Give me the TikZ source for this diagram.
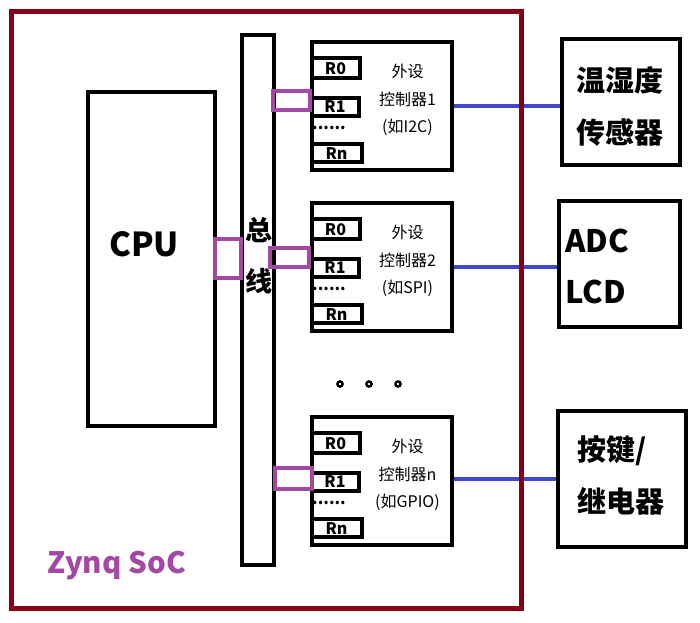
\documentclass[tikz,border=0pt]{standalone}
\usepackage{fontspec}
\setmainfont{Noto Sans CJK SC}
\usetikzlibrary{positioning, calc}
\definecolor{socred}{HTML}{880015}
\definecolor{linkblue}{HTML}{3F48CC}
\definecolor{portpurple}{HTML}{A349A4}

\begin{document}
\begin{tikzpicture}[x=1pt, y=-1pt,
    box/.style={draw, line width=4pt, inner sep=0pt},
    port/.style={draw=portpurple, line width=4pt, inner sep=0pt, minimum width=37pt, minimum height=19pt},
    reg/.style={draw, line width=4pt, inner sep=0pt, minimum height=18pt, anchor=west, font=\fontsize{16}{16}\selectfont\bfseries},
    ctrltxt/.style={align=center, inner sep=0pt, font=\fontsize{16}{27.5}\selectfont},
    devtxt/.style={align=left, inner sep=0pt, anchor=west, font=\fontsize{29}{51.5}\selectfont\bfseries},
    link/.style={draw=linkblue, line width=4pt}]
    \useasboundingbox (0,0) rectangle (700,622);
    \node[box, minimum width=127pt, minimum height=334pt] (cpu) at (151.5,259) {};
    \node[inner sep=0pt, font=\fontsize{33}{33}\selectfont\bfseries] (cpulbl) at (144,244) {CPU};
    \node[box, minimum width=32pt, minimum height=530pt] (bus) at (258,300) {};
    \node[inner sep=0pt, align=center, font=\fontsize{27}{51}\selectfont\bfseries] (buslbl) at (258.5,256) {总\\线};
    \foreach \i/\cy/\txt in {1/106/{外设\\控制器1\\(如I2C)}, 2/267/{外设\\控制器2\\(如SPI)}, n/481/{外设\\控制器n\\(如GPIO)}} {
        \node[box, minimum width=140pt, minimum height=128pt] (c\i) at (381.5,\cy) {};
        \node[reg, minimum width=48pt, minimum height=20pt] (c\i r0) at ($(c\i.north west)+(0,28.4)$) {R0};
        \node[reg, minimum width=47pt] (c\i r1) at ($(c\i.north west)+(0,67)$) {R1};
        \node[reg, minimum width=50pt] (c\i rn) at ($(c\i.north west)+(0,113.3)$) {Rn};
        \node[inner sep=0pt, font=\fontsize{16}{16}\selectfont\bfseries] (c\i dots) at ($(c\i.north west)+(19.5,88)$) {......};
        \node[ctrltxt] (c\i txt) at ($(c\i.center)+(26,-6)$) {\txt};
    }
    \node[port, minimum width=26pt, minimum height=39pt] (cpuport) at (227.7,258.3) {};
    \node[port] (p1) at (291.7,100) {};
    \node[port, minimum width=39pt] (p2) at (289.3,257.5) {};
    \node[port, minimum height=21pt] (pn) at (293,478.3) {};
    \node[box, minimum width=118pt, minimum height=126pt] (d1) at (620.8,101.7) {};
    \node[box, minimum width=121pt, minimum height=126pt] (d2) at (619.3,264.3) {};
    \node[box, minimum width=128pt, minimum height=136pt] (d3) at (622,479.3) {};
    \node[devtxt] (d1txt) at (576,106.5) {温湿度\\传感器};
    \node[devtxt, font=\fontsize{31}{51}\selectfont\bfseries] (d2txt) at (565,266.4) {ADC\\LCD};
    \node[devtxt] (d3txt) at (577,475.5) {按键/\\继电器};
    \draw[link] (c1.east) -- (c1.east -| d1.west);
    \draw[link] (c2.east) -- (c2.east -| d2.west);
    \draw[link] ([yshift=2.5pt]cn.east) -- ([yshift=2.5pt]cn.east -| d3.west);
    \foreach \dx in {340,369,398}
        \draw[line width=2.4pt] (\dx,384) circle (2.6pt);
    \node[draw=socred, line width=5pt, inner sep=0pt, minimum width=509.5pt, minimum height=597pt] (soc) at (266.25,310) {};
    \node[anchor=base west, inner sep=0pt, text=portpurple, font=\fontsize{29.5}{29.5}\selectfont\bfseries] (soclbl) at (47,573) {Zynq SoC};
\end{tikzpicture}
\end{document}
